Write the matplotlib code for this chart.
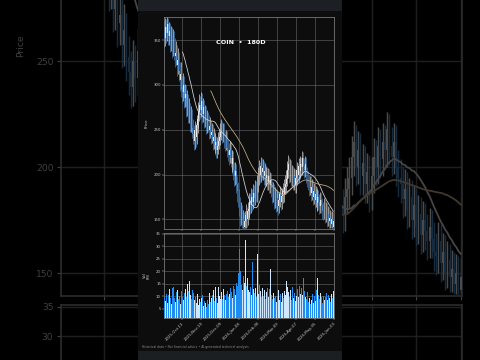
import matplotlib
matplotlib.use('Agg')
import matplotlib.pyplot as plt
from matplotlib.patches import Rectangle
import numpy as np

W, H = 480, 360

ticker = "COIN"
period = "180D"
tick_index = [19, 39, 59, 79, 99, 119, 139, 159, 179]
tick_labels = ["2025-Oct-13", "2025-Nov-10", "2025-Dec-09", "2026-Jan-08", "2026-Feb-06",
               "2026-Mar-09", "2026-Apr-07", "2026-May-05", "2026-Jun-03"]
price_ticks = [150, 200, 250, 300, 350]
vol_ticks = [5, 10, 15, 20, 25, 30, 35]
footer = "Historical data \u2022 Not financial advice \u2022 AI-generated technical analysis"

first_open = 358
close = [352, 365, 358, 368, 355, 360, 348, 356, 342, 350,
         340, 332, 336, 322, 328, 315, 305, 312, 298, 292,
         300, 285, 290, 275, 280, 268, 272, 258, 265, 252,
         245, 238, 250, 242, 255, 262, 270, 278, 272, 282,
         268, 275, 262, 268, 255, 262, 258, 250, 254, 244,
         248, 238, 242, 233, 236, 228, 232, 238, 242, 248,
         252, 245, 250, 240, 236, 242, 230, 226, 222, 228,
         218, 212, 218, 205, 198, 204, 190, 182, 175, 165,
         152, 158, 146, 150, 142, 148, 155, 150, 160, 162,
         170, 166, 175, 170, 180, 174, 184, 178, 190, 198,
         205, 200, 210, 203, 207, 198, 204, 196, 200, 192,
         198, 188, 194, 185, 178, 182, 172, 176, 168, 174,
         165, 172, 178, 170, 176, 182, 178, 186, 190, 195,
         205, 212, 200, 208, 196, 202, 192, 198, 188, 196,
         205, 200, 210, 204, 212, 208, 218, 210, 205, 212,
         200, 195, 192, 185, 190, 180, 186, 175, 182, 172,
         178, 168, 175, 170, 165, 172, 166, 160, 158, 165,
         155, 160, 150, 156, 148, 152, 145, 150, 142, 148]
high = [371, 375, 374, 376, 375, 370, 369, 366, 365, 362,
        360, 352, 349, 344, 341, 337, 326, 325, 320, 310,
        313, 310, 301, 300, 294, 290, 285, 280, 277, 273,
        262, 255, 260, 258, 266, 271, 281, 290, 288, 292,
        291, 285, 283, 278, 276, 272, 270, 267, 264, 261,
        258, 256, 252, 249, 246, 243, 242, 247, 251, 258,
        262, 260, 258, 257, 249, 250, 249, 239, 235, 238,
        236, 227, 228, 226, 214, 214, 212, 199, 192, 184,
        175, 169, 166, 161, 158, 159, 167, 164, 170, 173,
        180, 179, 185, 184, 190, 189, 194, 193, 200, 208,
        216, 214, 220, 218, 217, 215, 213, 211, 209, 208,
        207, 206, 203, 202, 193, 192, 190, 186, 184, 183,
        182, 181, 187, 186, 185, 191, 190, 195, 200, 205,
        215, 222, 220, 217, 216, 211, 210, 207, 206, 205,
        214, 213, 219, 218, 221, 220, 226, 225, 219, 221,
        220, 208, 204, 200, 199, 198, 195, 194, 191, 190,
        187, 186, 184, 183, 178, 181, 180, 174, 169, 174,
        173, 169, 168, 165, 164, 161, 160, 159, 158, 157]
low = [341, 343, 347, 349, 344, 345, 337, 338, 330, 332,
       328, 320, 322, 310, 312, 304, 293, 295, 286, 280,
       282, 274, 275, 264, 265, 257, 258, 247, 248, 241,
       234, 228, 229, 231, 234, 246, 252, 260, 262, 264,
       258, 259, 252, 253, 245, 246, 248, 240, 241, 234,
       235, 228, 229, 222, 224, 218, 219, 223, 229, 233,
       239, 235, 236, 230, 226, 227, 220, 215, 211, 213,
       208, 201, 203, 194, 187, 189, 179, 170, 164, 154,
       143, 144, 140, 141, 139.5, 140, 141, 142, 144, 151,
       153, 156, 157, 160, 162, 165, 166, 169, 170, 181,
       189, 191, 192, 194, 194, 189, 189, 187, 187, 183,
       183, 179, 179, 175, 168, 169, 162, 163, 158, 159,
       155, 157, 164, 161, 162, 168, 169, 170, 178, 181,
       187, 196, 191, 192, 187, 187, 183, 183, 179, 180,
       188, 191, 192, 195, 196, 199, 200, 201, 196, 197,
       191, 186, 183, 176, 177, 171, 172, 166, 167, 163,
       164, 159, 160, 161, 156, 157, 157, 151, 149, 150,
       146, 147, 142, 143, 141, 141, 140, 140, 139.5, 140]
volume = [9.5, 8.2, 11.0, 7.4, 10.3, 12.8, 9.1, 7.0, 13.2, 8.6,
          13.8, 9.4, 7.8, 11.6, 12.4, 8.9, 10.2, 6.8, 12.0, 9.7,
          8.4, 11.3, 13.0, 9.8, 14.9, 12.2, 16.0, 15.1, 10.5, 9.0,
          12.6, 11.4, 8.3, 9.6, 7.2, 10.8, 6.5, 8.8, 7.6, 9.2,
          10.4, 6.2, 8.0, 7.1, 5.8, 9.9, 8.5, 6.9, 11.2, 7.7,
          9.1, 10.6, 12.5, 8.2, 13.6, 9.3, 7.4, 13.5, 10.1, 8.7,
          11.8, 9.0, 12.9, 7.9, 10.5, 8.4, 11.0, 12.1, 9.6, 10.9,
          13.2, 11.5, 9.4, 14.0, 12.7, 10.3, 15.2, 13.9, 19.4, 29.0,
          20.1, 16.8, 14.5, 12.6, 18.2, 15.4, 32.4, 14.0, 17.1, 12.3,
          11.6, 13.8, 10.4, 23.7, 12.9, 11.2, 13.4, 9.8, 26.9, 12.5,
          10.8, 14.6, 11.9, 9.5, 13.1, 10.2, 12.4, 8.9, 11.7, 13.3,
          9.6, 12.8, 21.0, 10.5, 8.7, 11.4, 9.2, 13.0, 10.1, 7.8,
          9.9, 12.3, 8.6, 10.7, 7.5, 11.1, 9.4, 12.0, 10.6, 15.9,
          13.7, 11.8, 9.7, 12.5, 8.4, 10.9, 13.6, 9.1, 11.3, 7.9,
          10.2, 12.7, 9.5, 14.2, 11.0, 13.1, 10.4, 17.3, 12.2, 9.8,
          8.8, 11.5, 7.6, 10.0, 9.3, 6.9, 8.5, 10.7, 7.4, 9.9,
          8.1, 12.4, 17.3, 10.6, 8.9, 11.2, 9.5, 7.3, 10.1, 8.6,
          9.8, 7.7, 11.4, 8.3, 10.5, 9.1, 7.6, 10.9, 9.4, 12.0]

opens = [first_open] + close[:-1]


def sma(vals, n):
    out = [np.nan] * len(vals)
    for i in range(n - 1, len(vals)):
        out[i] = sum(vals[i - n + 1:i + 1]) / n
    return out


sma20 = sma(close, 20)
sma50 = sma(close, 50)

UP_C, DN_C = '#e8e8e8', '#4a86c5'
VUP_C, VDN_C = '#cfe7ff', '#1e8cf0'
GRID = '#6e6e6e'
TXT = '#c8c8c8'


def place(x0, y0, x1, y1, s):
    cx, cy = 240.0, 180.0
    X0 = cx + s * (x0 - cx)
    X1 = cx + s * (x1 - cx)
    Y0 = cy + s * (y0 - cy)
    Y1 = cy + s * (y1 - cy)
    return [X0 / W, 1 - Y1 / H, (X1 - X0) / W, (Y1 - Y0) / H]


def draw_chart(fig, s, z, face, background=False):
    fs = 2.8 * s
    x = np.arange(len(close))
    up = [c >= o for c, o in zip(close, opens)]
    ccol = [UP_C if u else DN_C for u in up]
    vcol = [VUP_C if u else VDN_C for u in up]

    axp = fig.add_axes(place(164, 17, 334, 229, s))
    axv = fig.add_axes(place(164, 233, 334, 318, s))
    for ax in (axp, axv):
        ax.set_zorder(z)
        ax.set_facecolor(face)
        ax.set_xlim(-0.5, len(close) - 0.5)
        ax.grid(True, color=GRID, lw=0.45 * s, alpha=0.85)
        ax.set_axisbelow(True)
        for sp in ax.spines.values():
            sp.set_color('#8a8a8a')
            sp.set_linewidth(0.5 * s)
        ax.tick_params(colors=TXT, labelsize=fs, length=1.2 * s, width=0.35 * s, pad=1.0 * s)
        ax.set_xticks(tick_index)

    # candles
    axp.vlines(x, low, high, colors=ccol, lw=0.45 * s, zorder=2)
    bottoms = [min(o, c) for o, c in zip(opens, close)]
    heights = [max(abs(c - o), 0.6) for o, c in zip(opens, close)]
    axp.bar(x, heights, bottom=bottoms, width=0.75, color=ccol, lw=0, zorder=3)
    axp.plot(x, sma20, color='#d8d8d8', lw=0.55 * s, zorder=4)
    axp.plot(x, sma50, color='#c8b08a', lw=0.55 * s, zorder=4)
    axp.set_ylim(139.4, 375.7)
    axp.set_yticks(price_ticks[:3] if background else price_ticks)
    axp.set_xticklabels([])
    axp.set_ylabel('Price', color=TXT, fontsize=fs)
    axp.yaxis.set_label_coords(-0.088, 0.5)
    if not background:
        axp.text(0.453, 0.882, f'{ticker}  \u2022  {period}', transform=axp.transAxes,
                 ha='center', va='center', color='white', fontsize=4.6 * s,
                 fontweight='bold')

    axv.bar(x, volume, width=1.0, color=vcol, lw=0, zorder=3)
    axv.set_ylim(1.2, 35.3)
    if background:
        axv.set_yticks(vol_ticks[-2:])
        axv.set_xticklabels([])
    else:
        axv.set_yticks(vol_ticks)
        axv.set_xticklabels(tick_labels, rotation=45, ha='right', rotation_mode='anchor',
                            fontsize=fs)
        axv.set_ylabel('Vol\n(M)', color=TXT, fontsize=fs * 0.95, linespacing=0.9)
        axv.yaxis.set_label_coords(-0.08, 0.5)
    return axp, axv


fig = plt.figure(figsize=(W / 100, H / 100), dpi=100, facecolor='black')

# zoomed, dimmed background copy of the chart
draw_chart(fig, 2.36, 0, 'black', background=True)
fig.add_artist(Rectangle((0, 0), 1, 1, transform=fig.transFigure, color='black',
                         alpha=0.68, zorder=1, lw=0))

# central panel
fig.add_artist(Rectangle((138 / W, 0), 204 / W, 1, transform=fig.transFigure,
                         color='#0d0d0d', zorder=2, lw=0))
fig.add_artist(Rectangle((138 / W, 1 - 11 / H), 204 / W, 11 / H, transform=fig.transFigure,
                         color='#1c2024', zorder=2.5, lw=0))
fig.add_artist(Rectangle((138 / W, 0), 204 / W, 9 / H, transform=fig.transFigure,
                         color='#1c1f22', zorder=2.5, lw=0))

draw_chart(fig, 1.0, 3, '#0d0d0d')
fig.text(142 / W, 1 - 347 / H, footer, color='#8c8c8c', fontsize=2.2, zorder=4,
         va='center', ha='left')

fig.savefig('out.png', dpi=100, facecolor='black')
